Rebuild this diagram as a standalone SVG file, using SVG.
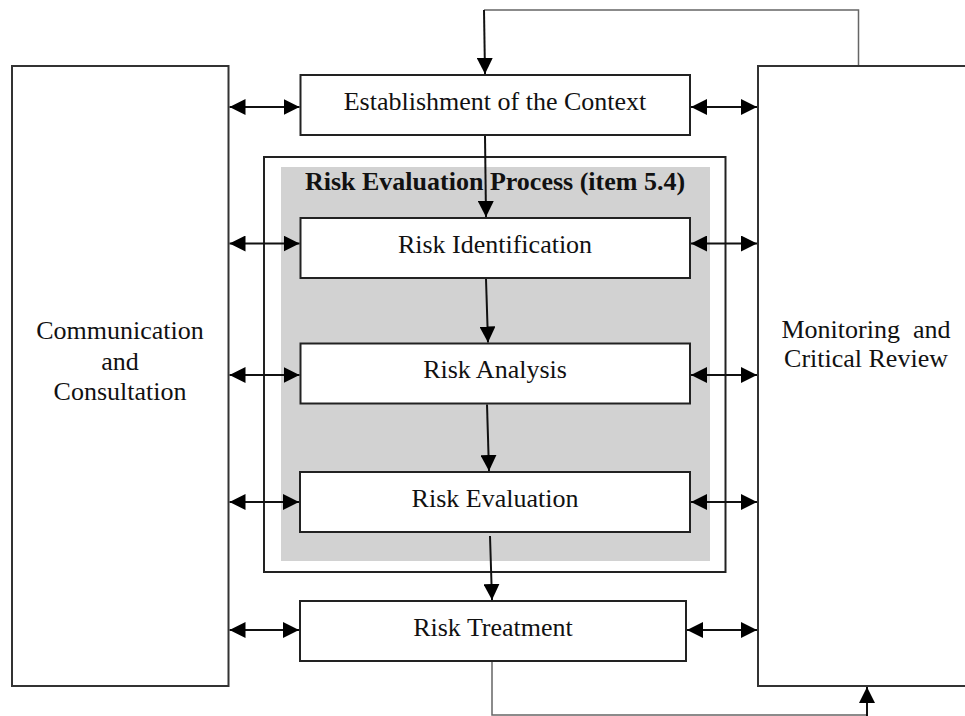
<svg xmlns="http://www.w3.org/2000/svg" width="965" height="716" viewBox="0 0 965 716">
<style>
.box{fill:#fff;stroke:#222;stroke-width:2}
.side{fill:#fff;stroke:#333;stroke-width:2}
.lbl{font-family:"Liberation Serif","Times New Roman",serif;font-size:26px;fill:#111;text-anchor:middle}
.ttl{font-family:"Liberation Serif","Times New Roman",serif;font-size:26px;font-weight:bold;fill:#111;text-anchor:middle}
.conn{stroke:#111;stroke-width:2;fill:none}
.fb{stroke:#666;stroke-width:1.5;fill:none}
</style>
<defs>
<marker id="ah" markerUnits="userSpaceOnUse" markerWidth="16" markerHeight="16" viewBox="0 0 14 14" refX="14" refY="7" orient="auto-start-reverse">
<path d="M0,0 L14,7 L0,14 Z" fill="#000"/>
</marker>
</defs>
<rect width="965" height="716" fill="#fff"/>

<g id="communication">
<rect class="side" x="12" y="66" width="216.5" height="620"/>
<text class="lbl" x="120" y="339">Communication</text>
<text class="lbl" x="120" y="370">and</text>
<text class="lbl" x="120" y="400">Consultation</text>
</g>

<g id="monitoring">
<rect class="side" x="758" y="66" width="230" height="620"/>
<text class="lbl" x="866" y="338" style="white-space:pre">Monitoring  and</text>
<text class="lbl" x="866" y="367">Critical Review</text>
</g>

<g id="process">
<rect x="264" y="157" width="461.5" height="415" fill="#fff" stroke="#222" stroke-width="2"/>
<rect x="281" y="167" width="429" height="394" fill="#d2d2d2"/>
<text class="ttl" x="495" y="190">Risk Evaluation Process (item 5.4)</text>
</g>

<g id="establishment">
<rect class="box" x="300.5" y="75" width="389.5" height="60"/>
<text class="lbl" x="495" y="110">Establishment of the Context</text>
</g>

<g id="identification">
<rect class="box" x="300.5" y="218" width="389.5" height="60"/>
<text class="lbl" x="495" y="253">Risk Identification</text>
</g>

<g id="analysis">
<rect class="box" x="300.5" y="343.5" width="389.5" height="60"/>
<text class="lbl" x="495" y="378">Risk Analysis</text>
</g>

<g id="evaluation">
<rect class="box" x="300" y="472" width="390" height="60"/>
<text class="lbl" x="495" y="507">Risk Evaluation</text>
</g>

<g id="treatment">
<rect class="box" x="300" y="601" width="386" height="60"/>
<text class="lbl" x="493" y="636">Risk Treatment</text>
</g>

<g id="connectors">
<line class="conn" x1="229.5" y1="107" x2="299.5" y2="107" marker-start="url(#ah)" marker-end="url(#ah)"/>
<line class="conn" x1="229.5" y1="243.5" x2="299.5" y2="243.5" marker-start="url(#ah)" marker-end="url(#ah)"/>
<line class="conn" x1="229.5" y1="375" x2="299.5" y2="375" marker-start="url(#ah)" marker-end="url(#ah)"/>
<line class="conn" x1="229.5" y1="502" x2="299" y2="502" marker-start="url(#ah)" marker-end="url(#ah)"/>
<line class="conn" x1="229.5" y1="630" x2="299" y2="630" marker-start="url(#ah)" marker-end="url(#ah)"/>
<line class="conn" x1="691" y1="107" x2="757" y2="107" marker-start="url(#ah)" marker-end="url(#ah)"/>
<line class="conn" x1="691" y1="243.5" x2="757" y2="243.5" marker-start="url(#ah)" marker-end="url(#ah)"/>
<line class="conn" x1="691" y1="375" x2="757" y2="375" marker-start="url(#ah)" marker-end="url(#ah)"/>
<line class="conn" x1="691" y1="502" x2="757" y2="502" marker-start="url(#ah)" marker-end="url(#ah)"/>
<line class="conn" x1="687" y1="630" x2="757" y2="630" marker-start="url(#ah)" marker-end="url(#ah)"/>
<line class="conn" x1="485" y1="136" x2="486" y2="217" marker-end="url(#ah)"/>
<line class="conn" x1="486" y1="279" x2="488" y2="342.5" marker-end="url(#ah)"/>
<line class="conn" x1="487" y1="404.5" x2="489" y2="471" marker-end="url(#ah)"/>
<line class="conn" x1="490" y1="536" x2="492" y2="600" marker-end="url(#ah)"/>
<path class="fb" d="M858.5,65 V10 H484"/>
<line class="conn" x1="484" y1="10" x2="485" y2="74" marker-end="url(#ah)"/>
<path class="fb" d="M492,662 V715 H867"/>
<line class="conn" x1="867" y1="716" x2="867" y2="687" marker-end="url(#ah)"/>
</g>
</svg>
